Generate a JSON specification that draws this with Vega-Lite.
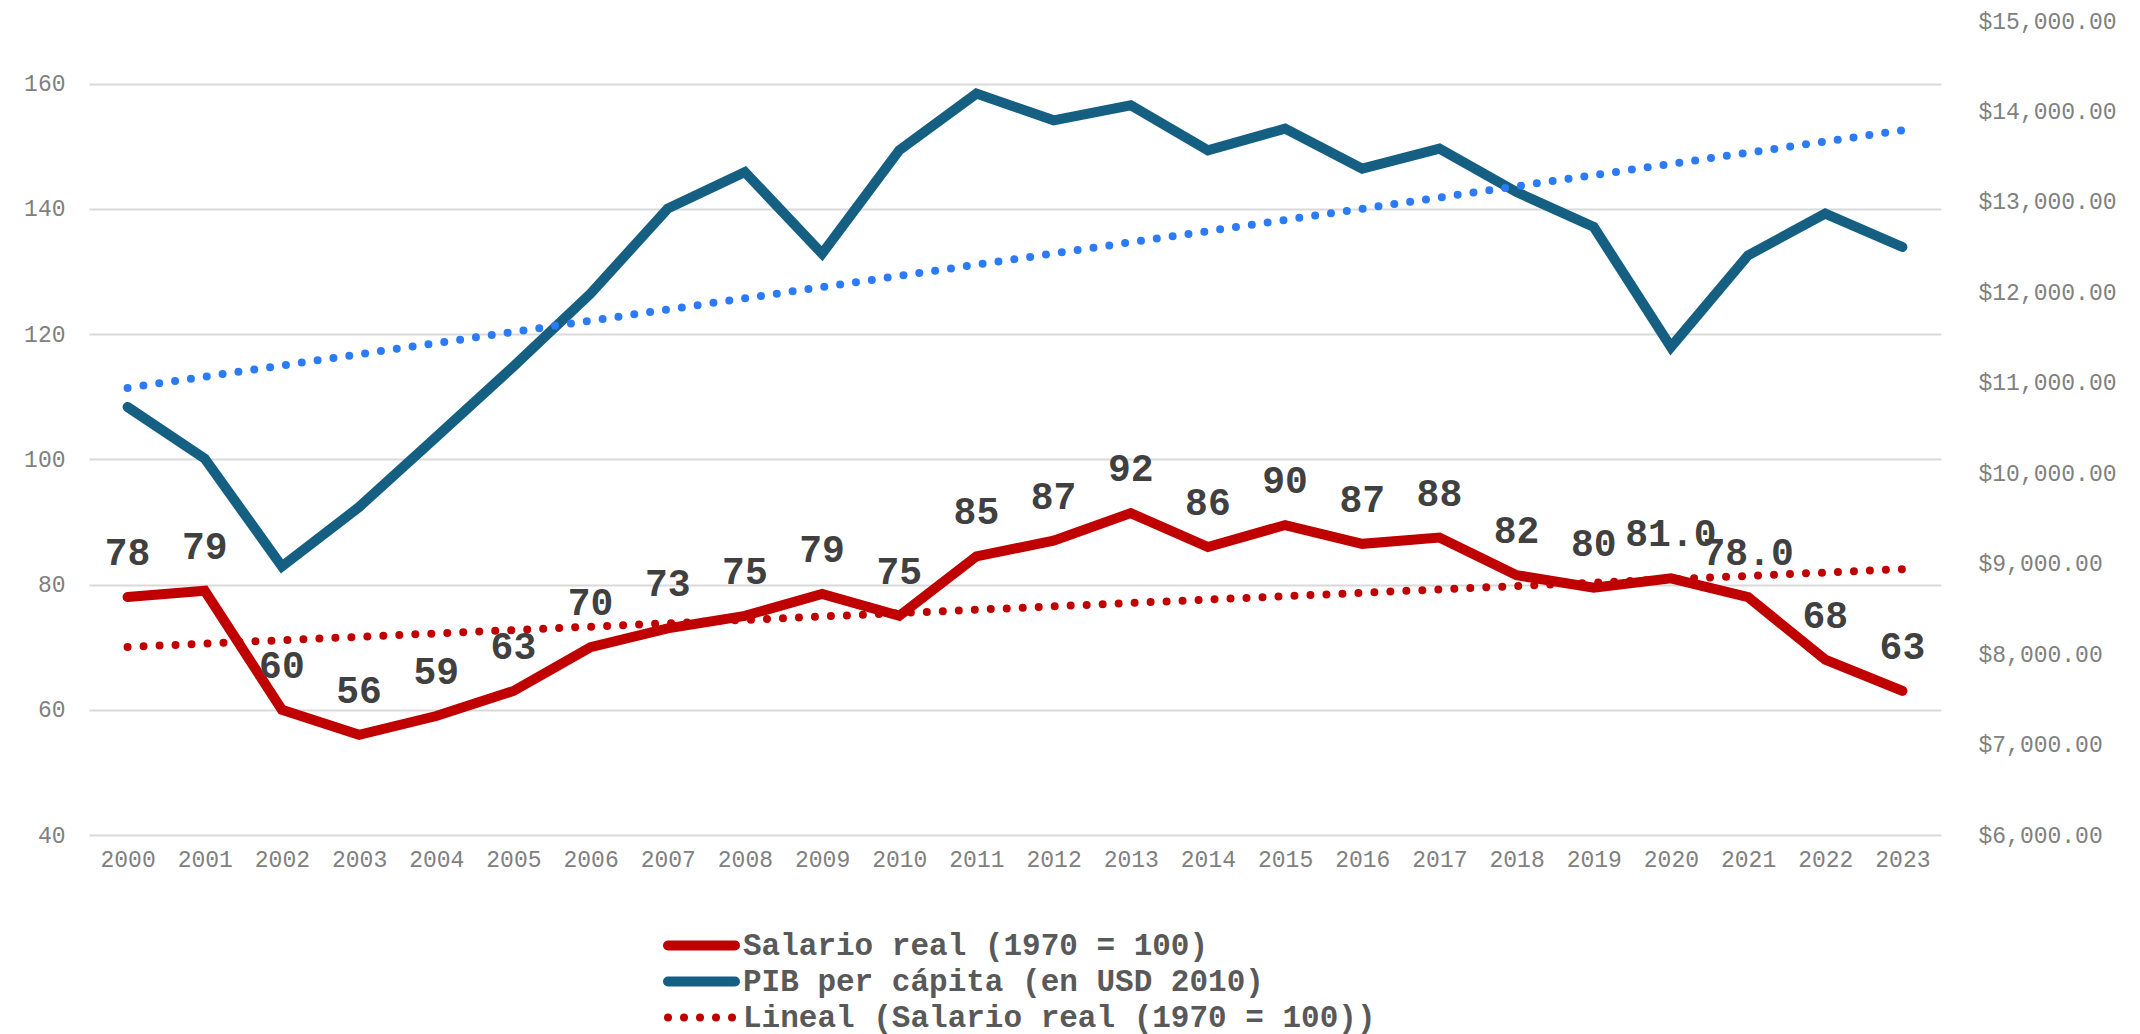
{
  "$schema": "https://vega.github.io/schema/vega-lite/v6.json",
  "autosize": "none",
  "width": 1852,
  "height": 814,
  "padding": {"left": 89, "top": 21, "right": 199, "bottom": 199},
  "background": "white",
  "config": {"view": {"stroke": null}, "font": "Liberation Mono"},
  "data": {"values": [
    {"year": 2000, "salario": 78, "etiqueta": "78", "pib": 10732},
    {"year": 2001, "salario": 79, "etiqueta": "79", "pib": 10161},
    {"year": 2002, "salario": 60, "etiqueta": "60", "pib": 8970},
    {"year": 2003, "salario": 56, "etiqueta": "56", "pib": 9626},
    {"year": 2004, "salario": 59, "etiqueta": "59", "pib": 10400},
    {"year": 2005, "salario": 63, "etiqueta": "63", "pib": 11180},
    {"year": 2006, "salario": 70, "etiqueta": "70", "pib": 11986},
    {"year": 2007, "salario": 73, "etiqueta": "73", "pib": 12926},
    {"year": 2008, "salario": 75, "etiqueta": "75", "pib": 13330},
    {"year": 2009, "salario": 78.5, "etiqueta": "79", "pib": 12428},
    {"year": 2010, "salario": 75, "etiqueta": "75", "pib": 13570},
    {"year": 2011, "salario": 84.5, "etiqueta": "85", "pib": 14197},
    {"year": 2012, "salario": 87, "etiqueta": "87", "pib": 13902},
    {"year": 2013, "salario": 91.4, "etiqueta": "92", "pib": 14068},
    {"year": 2014, "salario": 86, "etiqueta": "86", "pib": 13570},
    {"year": 2015, "salario": 89.5, "etiqueta": "90", "pib": 13810},
    {"year": 2016, "salario": 86.5, "etiqueta": "87", "pib": 13368},
    {"year": 2017, "salario": 87.5, "etiqueta": "88", "pib": 13589},
    {"year": 2018, "salario": 81.5, "etiqueta": "82", "pib": 13109},
    {"year": 2019, "salario": 79.5, "etiqueta": "80", "pib": 12722},
    {"year": 2020, "salario": 81, "etiqueta": "81.0", "pib": 11395},
    {"year": 2021, "salario": 78, "etiqueta": "78.0", "pib": 12409},
    {"year": 2022, "salario": 68, "etiqueta": "68", "pib": 12870},
    {"year": 2023, "salario": 63, "etiqueta": "63", "pib": 12501}
  ]},
  "encoding": {
    "x": {
      "field": "year", "type": "quantitative",
      "scale": {"domain": [1999.5, 2023.5], "nice": false, "zero": false},
      "axis": {
        "values": [2000,2001,2002,2003,2004,2005,2006,2007,2008,2009,2010,2011,2012,2013,2014,2015,2016,2017,2018,2019,2020,2021,2022,2023],
        "format": "d", "title": null, "grid": false, "domain": false, "ticks": false,
        "labelFlush": false, "labelOverlap": false,
        "labelFont": "Liberation Mono", "labelFontSize": 23, "labelColor": "#808080", "labelPadding": 13
      }
    }
  },
  "layer": [
    {
      "encoding": {
        "y": {
          "field": "salario", "type": "quantitative",
          "scale": {"domain": [40, 170], "nice": false, "zero": false},
          "axis": {
            "orient": "left", "values": [40,60,80,100,120,140,160], "title": null,
            "grid": true, "gridColor": "#D9D9D9", "gridWidth": 2, "domain": false, "ticks": false,
            "labelFont": "Liberation Mono", "labelFontSize": 23, "labelColor": "#808080", "labelPadding": 24
          }
        }
      },
      "layer": [
        {
          "mark": {"type": "line", "strokeWidth": 10, "strokeCap": "round"},
          "encoding": {
            "color": {
              "datum": "Salario real (1970 = 100)",
              "scale": {
                "domain": ["Salario real (1970 = 100)", "PIB per cápita (en USD 2010)", "Lineal (Salario real (1970 = 100))"],
                "range": ["#C00000", "#156082", "#C00000"]
              },
              "legend": {
                "orient": "none", "legendX": 597, "legendY": 909, "direction": "vertical", "title": null,
                "symbolType": "stroke", "symbolSize": 4489, "symbolStrokeWidth": 10,
                "labelFont": "Liberation Mono", "labelFontSize": 31, "labelFontWeight": "bold",
                "labelColor": "#595959", "labelOffset": 26, "rowPadding": -10, "labelLimit": 2000,
                "encode": {
                  "symbols": {
                    "update": {
                      "strokeDash": {"signal": "datum.value === 'Lineal (Salario real (1970 = 100))' ? [0, 16] : []"},
                      "strokeWidth": {"signal": "datum.value === 'Lineal (Salario real (1970 = 100))' ? 8 : 10"},
                      "strokeCap": {"value": "round"}
                    }
                  }
                }
              }
            }
          }
        },
        {
          "transform": [{"regression": "salario", "on": "year"}],
          "mark": {"type": "line", "strokeWidth": 8, "strokeDash": [0, 16], "strokeCap": "round"},
          "encoding": {"color": {"datum": "Lineal (Salario real (1970 = 100))"}}
        },
        {
          "mark": {"type": "text", "dy": -32, "baseline": "alphabetic", "align": "center", "font": "Liberation Mono", "fontWeight": "bold", "fontSize": 38, "fill": "#404040"},
          "encoding": {"text": {"field": "etiqueta"}}
        }
      ]
    },
    {
      "encoding": {
        "y": {
          "field": "pib", "type": "quantitative",
          "scale": {"domain": [6000, 15000], "nice": false, "zero": false},
          "axis": {
            "orient": "right", "values": [6000,7000,8000,9000,10000,11000,12000,13000,14000,15000],
            "format": "$,.2f", "title": null, "grid": false, "domain": false, "ticks": false,
            "labelFont": "Liberation Mono", "labelFontSize": 23, "labelColor": "#808080", "labelPadding": 37
          }
        }
      },
      "layer": [
        {
          "mark": {"type": "line", "strokeWidth": 10, "strokeCap": "round"},
          "encoding": {"color": {"datum": "PIB per cápita (en USD 2010)"}}
        },
        {
          "transform": [{"regression": "pib", "on": "year"}],
          "mark": {"type": "line", "strokeWidth": 8, "strokeDash": [0, 16], "strokeCap": "round", "color": "#2B7BF6"},
          "encoding": {}
        }
      ]
    }
  ],
  "resolve": {"scale": {"y": "independent"}}
}
